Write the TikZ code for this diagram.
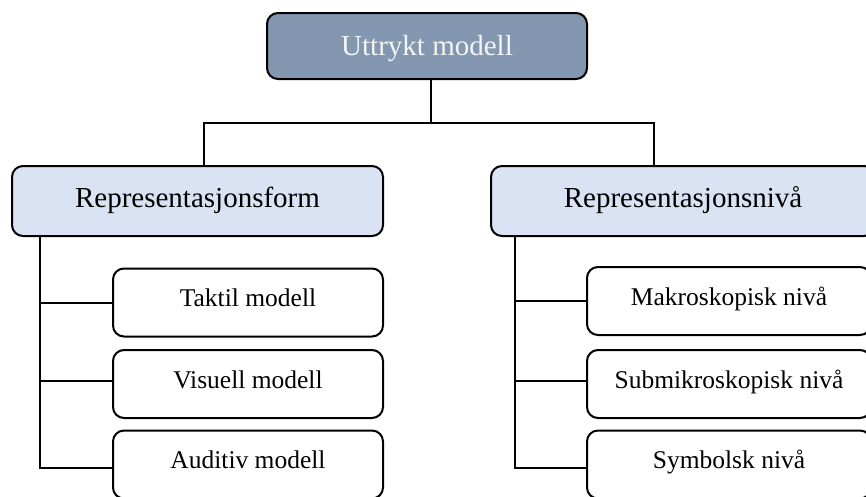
\documentclass[tikz,border=0pt]{standalone}
\usepackage{fontspec}
\setmainfont{Liberation Serif}
\definecolor{headfill}{HTML}{8497B0}
\definecolor{groupfill}{HTML}{DAE3F3}
\definecolor{headtext}{HTML}{F4F4F4}
\begin{document}
\begin{tikzpicture}[x=1pt,y=-1pt,
  box/.style={draw=black, line width=2pt, rounded corners=11pt, inner sep=0pt,
    align=center},
  headbox/.style={box, fill=headfill, text=headtext, font=\fontsize{29}{34}\selectfont,
    text height=19pt, text depth=0pt, minimum width=320pt, minimum height=66pt},
  groupbox/.style={box, fill=groupfill, font=\fontsize{29}{34}\selectfont,
    text height=20pt, text depth=7pt, minimum height=70pt},
  leafbox/.style={box, fill=white, font=\fontsize{25.5}{30}\selectfont,
    text height=17pt, text depth=8.2pt, minimum height=68pt},
  conn/.style={draw=black, line width=2pt}]
\useasboundingbox (0,0) rectangle (866,496);
\clip (0,0) rectangle (866,496);

% top level
\node[headbox] (top) at (427,46) {Uttrykt modell};

% second level
\node[groupbox, minimum width=371pt] (form) at (197.5,201) {Representasjonsform};
\node[groupbox, minimum width=384pt] (niva) at (683,201) {Representasjonsnivå};

% leaves under "Representasjonsform"
\node[leafbox, minimum width=270pt] (taktil)  at (248,302.5) {Taktil modell};
\node[leafbox, minimum width=270pt] (visuell) at (248,384)   {Visuell modell};
\node[leafbox, minimum width=270pt] (auditiv) at (248,464.5) {Auditiv modell};

% leaves under "Representasjonsnivå"
\node[leafbox, minimum width=284pt] (makro)    at (729,301)   {Makroskopisk nivå};
\node[leafbox, minimum width=284pt] (submikro) at (729,384)   {Submikroskopisk nivå};
\node[leafbox, minimum width=284pt] (symbolsk) at (729,464.5) {Symbolsk nivå};

% connectors from the top box
\coordinate (split) at (431,123);
\draw[conn] ([xshift=4pt]top.south) -- (split);
\draw[conn] (split) -| ([xshift=6.5pt]form.north);
\draw[conn] (split) -| ([xshift=-29pt]niva.north);

% left bus (yshift is in page units: positive moves up)
\coordinate (lbus) at (40,236);
\draw[conn] (lbus) |- ([yshift=-3.5pt]auditiv.west);
\draw[conn] (lbus |- taktil.west) -- (taktil.west);
\draw[conn] ([yshift=3pt]visuell.west -| lbus) -- ([yshift=3pt]visuell.west);

% right bus
\coordinate (rbus) at (515,236);
\draw[conn] (rbus) |- ([yshift=-3.5pt]symbolsk.west);
\draw[conn] (rbus |- makro.west) -- (makro.west);
\draw[conn] ([yshift=3pt]submikro.west -| rbus) -- ([yshift=3pt]submikro.west);
\end{tikzpicture}
\end{document}
